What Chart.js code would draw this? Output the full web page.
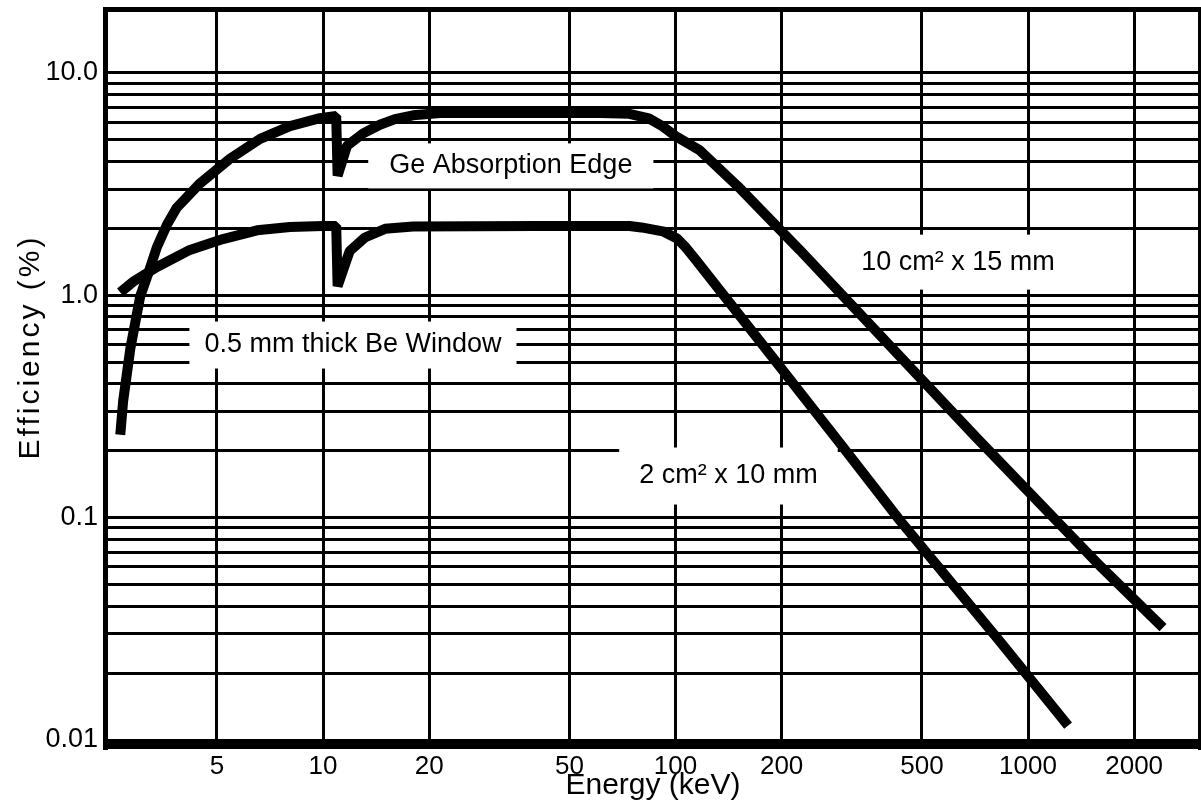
<!DOCTYPE html>
<html><head><meta charset="utf-8">
<script src="https://cdn.jsdelivr.net/npm/chart.js@4.4.1/dist/chart.umd.min.js"></script>
<style>html,body{margin:0;padding:0;background:#fff;}canvas{display:block;}</style>
</head><body>
<canvas id="c" width="1201" height="804"></canvas>
<script>
// ---- data ----
const energyA = [2.66, 2.71, 2.84, 3.03, 3.19, 3.38, 3.61, 3.85, 4.48, 5.45, 6.63, 8.06, 9.8, 10.9, 11.0, 11.7, 13.0, 14.5, 16.0, 18.0, 21.5, 31.8, 61, 74, 84, 92, 100, 117, 150, 225, 712, 1600, 2415];
const effA    = [0.236, 0.334, 0.575, 0.99, 1.25, 1.65, 2.08, 2.48, 3.19, 4.12, 5.05, 5.77, 6.26, 6.4, 3.45, 4.71, 5.35, 5.85, 6.2, 6.45, 6.6, 6.6, 6.6, 6.55, 6.25, 5.75, 5.2, 4.5, 3.1, 1.60, 0.23, 0.0607, 0.032];
const energyB = [2.66, 2.89, 3.38, 4.19, 5.2, 6.5, 8.06, 10.0, 10.9, 11.0, 11.9, 13.15, 15.0, 18.0, 40, 74, 80, 92, 101, 107, 113.6, 185.4, 292.8, 433.5, 833, 1299];
const effB    = [1.03, 1.15, 1.34, 1.60, 1.79, 1.96, 2.03, 2.05, 2.05, 1.1, 1.58, 1.82, 1.99, 2.04, 2.05, 2.05, 2.02, 1.94, 1.80, 1.64, 1.458, 0.544, 0.216, 0.097, 0.0277, 0.0116];
const seriesNames = ['10 cm² x 15 mm', '2 cm² x 10 mm'];

const xTickValues = [5, 10, 20, 50, 100, 200, 500, 1000, 2000];
const xTickLabels = ['5', '10', '20', '50', '100', '200', '500', '1000', '2000'];
const yTickValues = [0.01,0.02,0.03,0.04,0.05,0.06,0.07,0.08,0.09,
                     0.1,0.2,0.3,0.4,0.5,0.6,0.7,0.8,0.9,
                     1,2,3,4,5,6,7,8,9,10];
const yTickLabels = ['0.01','','','','','','','','',
                     '0.1','','','','','','','','',
                     '1.0','','','','','','','','','10.0'];
const xTitle = 'Energy (keV)';
const yTitle = 'Efficiency (%)';

const noteTexts  = ['Ge Absorption Edge', '0.5 mm thick Be Window', '2 cm² x 10 mm', '10 cm² x 15 mm'];
const noteEnergy = [34.1, 12.16, 141.3, 633];
const noteEff    = [3.82, 0.5975, 0.1539, 1.41];

// ---- styling ----
const FONT = '"Liberation Sans", Arial, Helvetica, sans-serif';
const NOTE_SIZE = 27;
const notePad = [[21, 9], [15, 10], [20, 15], [18, 14]];

const notesPlugin = {
  id: 'notes',
  beforeDatasetsDraw(chart) {
    const ctx = chart.ctx, xs = chart.scales.x, ys = chart.scales.y;
    ctx.save();
    ctx.font = NOTE_SIZE + 'px ' + FONT;
    ctx.textAlign = 'center';
    ctx.textBaseline = 'middle';
    noteTexts.forEach((t, i) => {
      const px = xs.getPixelForValue(noteEnergy[i]);
      const py = ys.getPixelForValue(noteEff[i]);
      const w = ctx.measureText(t).width;
      const [padX, padY] = notePad[i];
      ctx.fillStyle = '#fff';
      ctx.fillRect(px - w / 2 - padX, py - NOTE_SIZE / 2 - padY, w + 2 * padX, NOTE_SIZE + 2 * padY);
      ctx.fillStyle = '#000';
      ctx.fillText(t, px, py);
    });
    ctx.restore();
  }
};

const framePlugin = {
  id: 'frame',
  afterDatasetsDraw(chart) {
    const ctx = chart.ctx, a = chart.chartArea;
    ctx.save();
    ctx.fillStyle = '#000';
    ctx.fillRect(a.left - 5, a.top - 5, a.right - a.left + 9, 5);    // top
    ctx.fillRect(a.left - 5, a.top - 5, 5, a.bottom - a.top + 15);   // left
    ctx.fillRect(a.left - 5, a.bottom - 1, a.right - a.left + 9, 10); // bottom
    ctx.fillRect(a.right, a.top - 5, 4, a.bottom - a.top + 15);      // right
    // y axis title
    ctx.translate(31, 347);
    ctx.rotate(-Math.PI / 2);
    ctx.font = '30px ' + FONT;
    if ('letterSpacing' in ctx) ctx.letterSpacing = '3px';
    ctx.textAlign = 'center';
    ctx.textBaseline = 'middle';
    ctx.fillText(yTitle, 0, 0);
    ctx.restore();
  }
};

const mk = (xs, ys) => xs.map((v, i) => ({ x: v, y: ys[i] }));

new Chart(document.getElementById('c'), {
  type: 'line',
  data: {
    datasets: [
      { label: seriesNames[0], data: mk(energyA, effA) },
      { label: seriesNames[1], data: mk(energyB, effB) }
    ]
  },
  options: {
    responsive: false,
    animation: false,
    devicePixelRatio: 1,
    layout: { padding: { top: 12, right: 3, left: 0, bottom: 0 } },
    elements: {
      line: { borderColor: '#000', borderWidth: 10, tension: 0, borderJoinStyle: 'bevel', fill: false },
      point: { radius: 0, hitRadius: 0 }
    },
    plugins: { legend: { display: false }, tooltip: { enabled: false } },
    scales: {
      x: {
        type: 'logarithmic',
        min: 2.455, max: 3035,
        afterBuildTicks: s => { s.ticks = xTickValues.map(v => ({ value: v })); },
        afterFit: s => { s.height = 64; s.paddingLeft = 0; s.paddingRight = 0; },
        ticks: {
          autoSkip: false, maxRotation: 0, minRotation: 0, padding: 11,
          color: '#000', font: { family: FONT, size: 26 },
          callback: (v, i) => xTickLabels[i]
        },
        grid: { color: '#000', lineWidth: 3, drawTicks: false },
        border: { display: false },
        title: { display: true, text: xTitle, color: '#000',
                 font: { family: FONT, size: 30 }, padding: { top: 0, bottom: 0 } }
      },
      y: {
        type: 'logarithmic',
        min: 0.01, max: 18.8,
        afterBuildTicks: s => { s.ticks = yTickValues.map(v => ({ value: v })); },
        afterFit: s => { s.width = 108; s.paddingTop = 0; s.paddingBottom = 0; },
        ticks: {
          autoSkip: false, padding: 10,
          color: '#000', font: { family: FONT, size: 27 },
          callback: (v, i) => yTickLabels[i]
        },
        grid: { color: '#000', lineWidth: 3, drawTicks: false },
        border: { display: false },
        title: { display: false }
      }
    }
  },
  plugins: [notesPlugin, framePlugin]
});
</script>
</body></html>
